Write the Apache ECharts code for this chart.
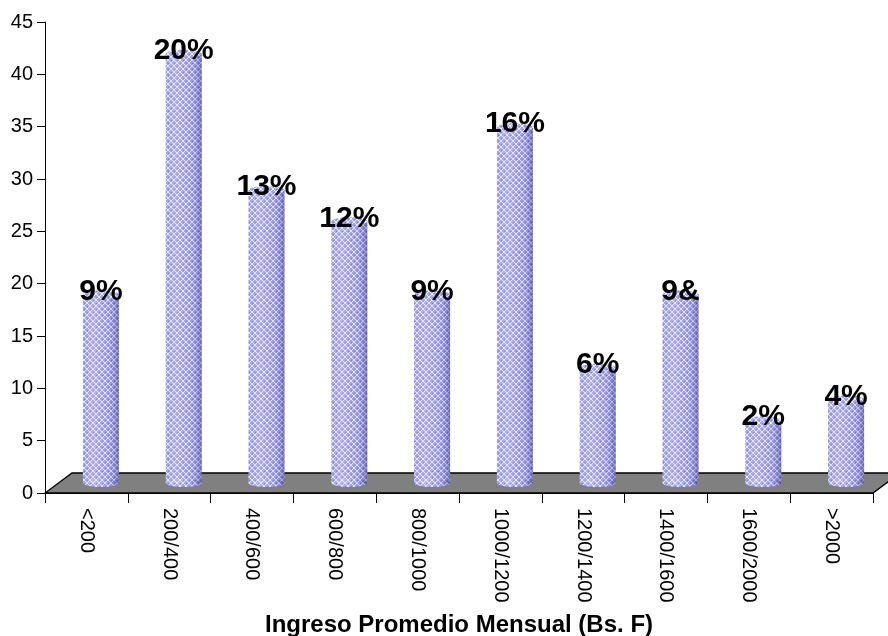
<!DOCTYPE html>
<html>
<head>
<meta charset="utf-8">
<script src="https://cdn.jsdelivr.net/npm/echarts@6/dist/echarts.min.js"></script>
<style>
  html, body { margin: 0; padding: 0; background: #ffffff; }
  #chart { width: 888px; height: 636px; }
</style>
</head>
<body>
<div id="chart"></div>
<script>
// ---- data ----
const categories = ['<200', '200/400', '400/600', '600/800', '800/1000', '1000/1200', '1200/1400', '1400/1600', '1600/2000', '>2000'];
const values = [18, 41, 28, 25, 18, 34, 11, 18, 6, 8];
const pctLabels = ['9%', '20%', '13%', '12%', '9%', '16%', '6%', '9&', '2%', '4%'];
const yTicks = { min: 0, max: 45, interval: 5 };
const axisTitle = 'Ingreso Promedio Mensual (Bs. F)';

// ---- style constants ----
const FONT = '"Liberation Sans", Arial, sans-serif';
const DX = 27, DY = 20;      // 3D depth offset of floor
const RX = 18, RY = 4;       // cylinder radius / ellipse half height

function makePattern(bg, line, dot) {
  const c = document.createElement('canvas');
  c.width = 6; c.height = 6;
  const g = c.getContext('2d');
  g.fillStyle = bg; g.fillRect(0, 0, 6, 6);
  g.fillStyle = line;
  for (let i = 0; i < 6; i++) {
    g.fillRect(i, i, 1, 1);
    g.fillRect(5 - i, i, 1, 1);
  }
  g.fillStyle = dot;
  g.fillRect(3, 0, 1, 1);
  g.fillRect(0, 3, 1, 1);
  return c;
}
const bodyPattern = makePattern('#9c9cea', '#e2e2fa', '#7070d8');
const topPattern = makePattern('#a8a8ee', '#ececfc', '#8080de');

const shade = {
  type: 'linear', x: 0, y: 0, x2: 1, y2: 0,
  colorStops: [
    { offset: 0, color: 'rgba(255,255,255,0.05)' },
    { offset: 0.3, color: 'rgba(255,255,255,0.2)' },
    { offset: 0.6, color: 'rgba(255,255,255,0.05)' },
    { offset: 0.82, color: 'rgba(60,60,130,0.12)' },
    { offset: 1, color: 'rgba(30,30,90,0.4)' }
  ]
};

const chart = echarts.init(document.getElementById('chart'), null, { renderer: 'canvas' });

chart.setOption({
  animation: false,
  backgroundColor: '#ffffff',
  grid: { left: 45, right: 15, top: 22, bottom: 143, containLabel: false, outerBoundsMode: 'none' },
  xAxis: {
    type: 'category',
    data: categories,
    boundaryGap: true,
    axisLine: { show: true, lineStyle: { color: '#000', width: 1 } },
    axisTick: { show: true, inside: false, interval: 0, length: 10, lineStyle: { color: '#000' } },
    axisLabel: { interval: 0, rotate: -90, margin: 15, color: '#000', fontSize: 20, fontFamily: FONT },
    name: axisTitle,
    nameLocation: 'middle',
    nameGap: 120,
    nameTextStyle: { color: '#000', fontSize: 24, fontWeight: 'bold', fontFamily: FONT }
  },
  yAxis: {
    type: 'value',
    min: yTicks.min, max: yTicks.max, interval: yTicks.interval,
    axisLine: { show: true, lineStyle: { color: '#000', width: 1 } },
    axisTick: { show: true, inside: false, length: 8, lineStyle: { color: '#000' } },
    axisLabel: { margin: 12, color: '#000', fontSize: 20, fontFamily: FONT },
    splitLine: { show: false }
  },
  series: [
    {
      type: 'custom',
      name: 'floor',
      data: [[0, 0]],
      z: 1,
      silent: true,
      renderItem: function (params, api) {
        const n = categories.length;
        const w = api.size([1, 0])[0];
        const p0 = api.coord([0, 0]);
        const p1 = api.coord([n - 1, 0]);
        const x0 = p0[0] - w / 2, x1 = p1[0] + w / 2, y0 = p0[1];
        return {
          type: 'polygon',
          shape: { points: [[x0, y0], [x1, y0], [x1 + DX, y0 - DY], [x0 + DX, y0 - DY]] },
          style: { fill: '#808080', stroke: '#000', lineWidth: 1.3 }
        };
      }
    },
    {
      type: 'custom',
      name: 'bars',
      data: categories.map((c, i) => [i, values[i]]),
      z: 3,
      renderItem: function (params, api) {
        const i = api.value(0);
        const base = api.coord([i, 0]);
        const top = api.coord([i, api.value(1)]);
        const cx = base[0] + DX / 2 + 1;
        const by = base[1] - DY / 2;
        const ty = top[1] - DY / 2;
        return {
          type: 'group',
          children: [
            { type: 'ellipse', shape: { cx: cx, cy: by, rx: RX, ry: RY }, style: { fill: { image: bodyPattern, repeat: 'repeat' } } },
            { type: 'rect', shape: { x: cx - RX, y: ty, width: 2 * RX, height: by - ty }, style: { fill: { image: bodyPattern, repeat: 'repeat' } } },
            { type: 'ellipse', shape: { cx: cx, cy: by, rx: RX, ry: RY }, style: { fill: shade } },
            { type: 'rect', shape: { x: cx - RX, y: ty, width: 2 * RX, height: by - ty }, style: { fill: shade } },
            { type: 'ellipse', shape: { cx: cx, cy: ty, rx: RX, ry: RY }, style: { fill: { image: topPattern, repeat: 'repeat' } } },
            {
              type: 'text', z2: 10,
              style: {
                text: pctLabels[i], x: cx, y: ty - RY + 1,
                align: 'center', verticalAlign: 'middle',
                font: 'bold 30px ' + FONT, fill: '#000'
              }
            }
          ]
        };
      }
    }
  ]
});
</script>
</body>
</html>
